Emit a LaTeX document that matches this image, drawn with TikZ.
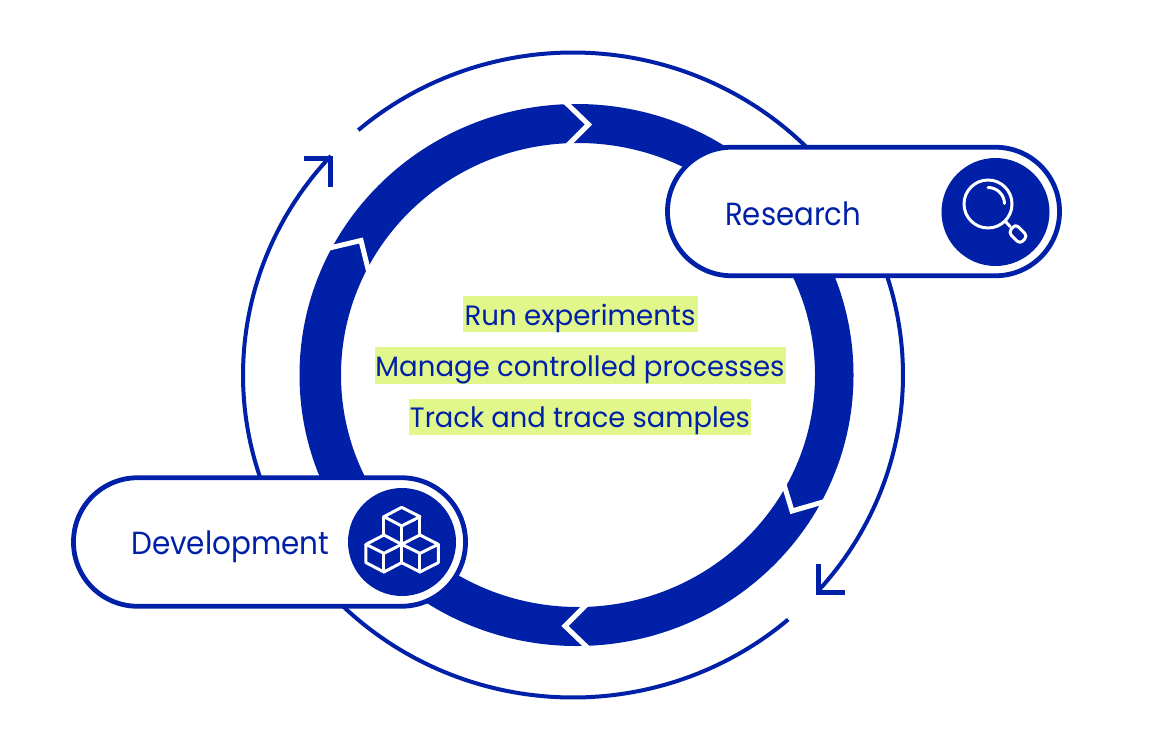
\documentclass[tikz,border=0pt]{standalone}
\usepackage{fontspec}
\usepackage{graphicx}
\setmainfont{Poppins}
\definecolor{dblue}{HTML}{0020A8}
\definecolor{hl}{HTML}{E2F78B}
\newcommand{\fitw}[2]{\resizebox{#1pt}{\height}{#2}}
\tikzset{
 x=1pt,y=-1pt,
 thin arc/.style={draw=dblue,line width=4pt},
 headline/.style={draw=dblue,line width=5pt,miter limit=10},
 pill/.style={draw=dblue,fill=white,line width=4.8pt,rounded corners=64pt,minimum width=392pt,minimum height=128.5pt,inner sep=0pt},
 badge/.style={circle,fill=dblue,minimum size=108pt,inner sep=0pt},
 chev/.style={draw=white,line width=5pt,miter limit=10},
 iconline/.style={draw=white,line width=3pt,line join=round,line cap=round},
 bodytext/.style={text=dblue,anchor=base,inner sep=0pt,font=\fontsize{28}{33}\selectfont},
 pilltext/.style={text=dblue,anchor=base west,inner sep=0pt,font=\fontsize{32}{38}\selectfont},
}
\begin{document}
\begin{tikzpicture}
\useasboundingbox (0,0) rectangle (1164,742);
% thick ring
\fill[dblue,even odd rule] (576.5,375) ellipse [x radius=277pt,y radius=271pt]
   (578,375) ellipse [x radius=237pt,y radius=232pt];
% chevrons cutting the ring
\draw[chev] (560,97) -- (588.5,124.5) -- (562,151);
\draw[chev] (323,249.5) -- (361,240.5) -- (370,277);
\draw[chev] (782,478) -- (792,511) -- (830,500);
\draw[chev] (591,600) -- (565,626) -- (592,652);
% thin outer arcs
\draw[thin arc,line cap=butt] plot[domain=130.6:-42,samples=140] ({573+330*cos(\x)},{375-322.5*sin(\x)});
\draw[thin arc,line cap=butt] plot[domain=-49.3:-222.8,samples=140] ({573+330*cos(\x)},{375-322.5*sin(\x)});
% arrowheads
\coordinate (ha1) at (304,158);
\coordinate (ha2) at (330.5,158);
\coordinate (ha3) at (330.5,187);
\coordinate (hb1) at (818.5,564);
\coordinate (hb2) at (818.5,592);
\coordinate (hb3) at (845,592);
\draw[headline] (ha1) -- (ha2) -- (ha3);
\draw[headline] (hb1) -- (hb2) -- (hb3);
% highlighted text
\fill[hl] (463,296) rectangle (698,332);
\fill[hl] (374.5,347) rectangle (786,384);
\fill[hl] (409,399) rectangle (751,435);
\node[bodytext] (t1) at (580,325.5) {\fitw{231}{Run experiments}};
\node[bodytext] (t2) at (580,376.5) {\fitw{409}{Manage controlled processes}};
\node[bodytext] (t3) at (580,427.5) {\fitw{340}{Track and trace samples}};
% pills
\node[pill] (research) at (863.5,211.5) {};
\node[pill] (development) at (269.5,542) {};
\node[badge] (rbadge) at (995.5,212) {};
\node[badge] (dbadge) at (402,542) {};
\node[pilltext] (rlabel) at (725,225) {\fitw{136}{Research}};
\node[pilltext] (dlabel) at (131,554) {\fitw{198}{Development}};
% magnifier icon
\draw[iconline] (988,204) circle [radius=24pt];
\draw[iconline] plot[domain=90:2,samples=20] ({988+16.5*cos(\x)},{204-16.5*sin(\x)});
\draw[iconline] (1005.5,221.5) -- (1010,226.5);
\draw[iconline,rounded corners=4pt] (1015.5,224) -- (1027.5,236) -- (1020,244) -- (1008.5,232.5) -- cycle;
% cubes icon
\begin{scope}[shift={(60,460)},x=0.3333pt,y=-0.3333pt]
\draw[iconline] (1025,142) -- (1080,170) -- (1025,198) -- (972,170) -- cycle;
\draw[iconline] (972,170) -- (972,225) (1080,170) -- (1080,225) (1025,198) -- (1025,308);
\draw[iconline] (972,225) -- (1025,253) -- (972,280) -- (918,253) -- cycle;
\draw[iconline] (918,253) -- (918,308) -- (972,336) -- (1025,308);
\draw[iconline] (972,280) -- (972,336);
\draw[iconline] (1080,225) -- (1135,253) -- (1080,280) -- (1025,253) -- cycle;
\draw[iconline] (1135,253) -- (1135,308) -- (1080,336) -- (1025,308);
\draw[iconline] (1080,280) -- (1080,336);
\end{scope}
\end{tikzpicture}
\end{document}
